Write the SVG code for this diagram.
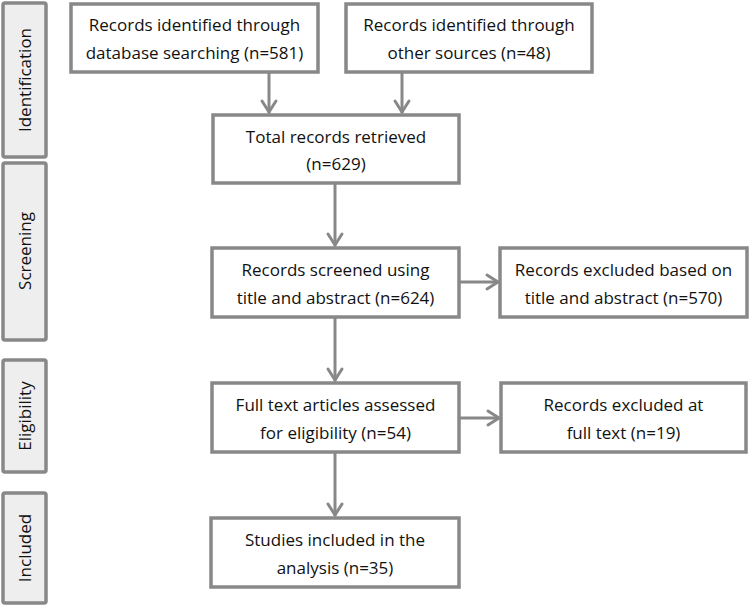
<svg xmlns="http://www.w3.org/2000/svg" width="749" height="605" viewBox="0 0 749 605">
<style>
.box{fill:#ffffff;stroke:#888888;stroke-width:3.5}
.side{fill:#eeeeee;stroke:#888888;stroke-width:3.5}
.t{font-family:"Open Sans","DejaVu Sans",sans-serif;font-size:17px;fill:#111111;text-anchor:middle}
.ln{stroke:#888888;stroke-width:3;fill:none}
.ah{stroke:#888888;stroke-width:3;fill:none;stroke-linecap:round;stroke-linejoin:miter}
</style>
<rect x="0" y="0" width="749" height="605" fill="#ffffff"/>
<g id="phase-identification"><rect class="side" x="3" y="3" width="43" height="154" rx="2"/><text class="t" transform="translate(31,80) rotate(-90)">Identification</text></g>
<g id="phase-screening"><rect class="side" x="3" y="163" width="43" height="177" rx="2"/><text class="t" transform="translate(31,251) rotate(-90)">Screening</text></g>
<g id="phase-eligibility"><rect class="side" x="3" y="360" width="43" height="112" rx="2"/><text class="t" transform="translate(31,416) rotate(-90)">Eligibility</text></g>
<g id="phase-included"><rect class="side" x="3" y="493" width="43" height="110" rx="2"/><text class="t" transform="translate(31,548) rotate(-90)">Included</text></g>

<g id="connectors">
<line class="ln" x1="269" y1="72" x2="269" y2="113"/><polyline class="ah" points="262,101 269,112 276,101"/>
<line class="ln" x1="402" y1="72" x2="402" y2="113"/><polyline class="ah" points="395,101 402,112 409,101"/>
<line class="ln" x1="335" y1="183" x2="335" y2="246"/><polyline class="ah" points="328,234 335,245 342,234"/>
<line class="ln" x1="459" y1="282" x2="498" y2="282"/><polyline class="ah" points="487,275 498,282 487,289"/>
<line class="ln" x1="335" y1="317" x2="335" y2="381"/><polyline class="ah" points="328,369 335,380 342,369"/>
<line class="ln" x1="459" y1="418" x2="499" y2="418"/><polyline class="ah" points="488,411 499,418 488,425"/>
<line class="ln" x1="335" y1="452" x2="335" y2="516"/><polyline class="ah" points="328,504 335,515 342,504"/>
</g>

<g id="db-search"><rect class="box" x="71" y="4" width="247" height="68"/><text class="t" x="194.5" y="31">Records identified through</text><text class="t" x="194.5" y="59">database searching (n=581)</text></g>
<g id="other-sources"><rect class="box" x="346" y="4" width="246" height="68"/><text class="t" x="469" y="31">Records identified through</text><text class="t" x="469" y="59">other sources (n=48)</text></g>
<g id="total"><rect class="box" x="213" y="115" width="246" height="68"/><text class="t" x="336" y="143">Total records retrieved</text><text class="t" x="336" y="170">(n=629)</text></g>
<g id="screened"><rect class="box" x="212" y="248" width="247" height="69"/><text class="t" x="335.5" y="276">Records screened using</text><text class="t" x="335.5" y="304">title and abstract (n=624)</text></g>
<g id="excluded-abstract"><rect class="box" x="500" y="248" width="247" height="69"/><text class="t" x="623.5" y="276">Records excluded based on</text><text class="t" x="623.5" y="304">title and abstract (n=570)</text></g>
<g id="fulltext"><rect class="box" x="212" y="383" width="247" height="69"/><text class="t" x="335.5" y="411">Full text articles assessed</text><text class="t" x="335.5" y="439">for eligibility (n=54)</text></g>
<g id="excluded-fulltext"><rect class="box" x="501" y="383" width="245" height="69"/><text class="t" x="623.5" y="411">Records excluded at</text><text class="t" x="623.5" y="439">full text (n=19)</text></g>
<g id="included"><rect class="box" x="211" y="518" width="248" height="69"/><text class="t" x="335" y="546">Studies included in the</text><text class="t" x="335" y="574">analysis (n=35)</text></g>
</svg>
